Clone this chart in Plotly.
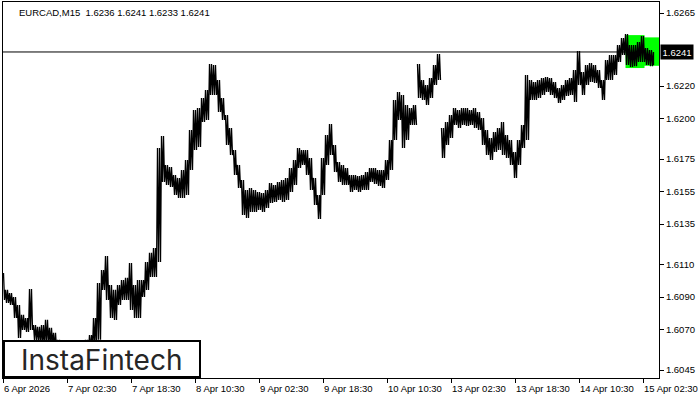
import plotly.graph_objects as go

# ---------------- data ----------------
symbol = "EURCAD,M15"
last_bar_ohlc = [1.6236, 1.6241, 1.6233, 1.6241]   # O H L C of the current M15 bar

# hourly high / low summary of the M15 bars (6 Apr 10:00 ... 15 Apr 05:00, weekend skipped)
hour_high = [
    1.61048, 1.60944, 1.60925, 1.60900, 1.60851, 1.60790, 1.60771, 1.60950, 1.60728, 1.60716,
    1.60728, 1.60759, 1.60710, 1.60679, 1.60636, 1.60623, 1.60605, 1.60617, 1.60586, 1.60605,
    1.60623, 1.60636, 1.60666, 1.60771, 1.60987, 1.61067, 1.61153, 1.60974, 1.60944, 1.60974,
    1.61005, 1.61018, 1.61110, 1.60974, 1.61005, 1.61005, 1.61116, 1.61172, 1.61202, 1.61818,
    1.61892, 1.61714, 1.61701, 1.61652, 1.61634, 1.61683, 1.61744, 1.61929, 1.62052, 1.62065,
    1.62126, 1.62176, 1.62336, 1.62330, 1.62237, 1.62126, 1.62022, 1.61942, 1.61806, 1.61714,
    1.61621, 1.61560, 1.61572, 1.61560, 1.61547, 1.61541, 1.61560, 1.61603, 1.61590, 1.61609,
    1.61621, 1.61634, 1.61695, 1.61744, 1.61818, 1.61806, 1.61806, 1.61757, 1.61634, 1.61529,
    1.61757, 1.61898, 1.61966, 1.61837, 1.61732, 1.61714, 1.61695, 1.61652, 1.61652, 1.61646,
    1.61652, 1.61670, 1.61695, 1.61695, 1.61683, 1.61683, 1.61744, 1.61868, 1.62114, 1.62163,
    1.62145, 1.62083, 1.62065, 1.62083, 1.62336, 1.62237, 1.62206, 1.62250, 1.62330, 1.62397,
    1.61942, 1.61978, 1.62022, 1.62065, 1.62052, 1.62065, 1.62065, 1.62052, 1.62065, 1.62040,
    1.62003, 1.61929, 1.61880, 1.61917, 1.61942, 1.61978, 1.61898, 1.61868, 1.61794, 1.61868,
    1.61960, 1.62268, 1.62237, 1.62225, 1.62237, 1.62250, 1.62256, 1.62250, 1.62225, 1.62188,
    1.62206, 1.62237, 1.62250, 1.62299, 1.62416, 1.62286, 1.62330, 1.62342, 1.62330, 1.62299,
    1.62237, 1.62360, 1.62391, 1.62391, 1.62453, 1.62496, 1.62521, 1.62453, 1.62453, 1.62471,
    1.62508, 1.62434, 1.62422, 1.62410,
]
hour_low = [
    1.60882, 1.60864, 1.60851, 1.60771, 1.60648, 1.60697, 1.60685, 1.60697, 1.60636, 1.60623,
    1.60605, 1.60617, 1.60605, 1.60586, 1.60562, 1.60537, 1.60525, 1.60512, 1.60500, 1.60512,
    1.60543, 1.60562, 1.60574, 1.60605, 1.60636, 1.60944, 1.60882, 1.60771, 1.60759, 1.60851,
    1.60882, 1.60882, 1.60820, 1.60771, 1.60771, 1.60900, 1.60944, 1.61024, 1.61024, 1.61116,
    1.61609, 1.61590, 1.61578, 1.61529, 1.61510, 1.61510, 1.61529, 1.61683, 1.61806, 1.61824,
    1.61978, 1.61991, 1.62145, 1.62145, 1.62040, 1.61991, 1.61837, 1.61775, 1.61652, 1.61572,
    1.61406, 1.61387, 1.61424, 1.61424, 1.61436, 1.61424, 1.61449, 1.61480, 1.61486, 1.61498,
    1.61486, 1.61498, 1.61547, 1.61590, 1.61695, 1.61714, 1.61652, 1.61560, 1.61467, 1.61381,
    1.61529, 1.61714, 1.61775, 1.61670, 1.61609, 1.61590, 1.61590, 1.61547, 1.61560, 1.61547,
    1.61560, 1.61560, 1.61609, 1.61597, 1.61584, 1.61572, 1.61621, 1.61683, 1.61868, 1.61991,
    1.61818, 1.61868, 1.61960, 1.61960, 1.62126, 1.62114, 1.62083, 1.62126, 1.62206, 1.62237,
    1.61757, 1.61837, 1.61880, 1.61960, 1.61942, 1.61960, 1.61954, 1.61960, 1.61942, 1.61929,
    1.61837, 1.61775, 1.61744, 1.61794, 1.61806, 1.61775, 1.61757, 1.61714, 1.61634, 1.61714,
    1.61818, 1.61868, 1.62114, 1.62114, 1.62126, 1.62145, 1.62163, 1.62145, 1.62126, 1.62096,
    1.62114, 1.62139, 1.62145, 1.62102, 1.62206, 1.62145, 1.62206, 1.62225, 1.62219, 1.62188,
    1.62114, 1.62237, 1.62237, 1.62268, 1.62348, 1.62391, 1.62330, 1.62317, 1.62323, 1.62348,
    1.62348, 1.62330, 1.62323, 1.62330,
]

x_tick_labels = ["6 Apr 2026", "7 Apr 02:30", "7 Apr 18:30", "8 Apr 10:30", "9 Apr 02:30",
                 "9 Apr 18:30", "10 Apr 10:30", "13 Apr 02:30", "13 Apr 18:30",
                 "14 Apr 10:30", "15 Apr 02:30"]
bars_between_labels = 64          # 16 hours of M15 bars
bars_per_hour = 4
first_hour_offset = 2             # chart starts at 10:30, i.e. 2 bars into the 10:00 hour

y_tick_values = [1.6265, 1.6220, 1.6200, 1.6175, 1.6155, 1.6135, 1.6110, 1.6090, 1.6070, 1.6045]
y_range = [1.60401, 1.62718]

# rectangle pattern (bar index start/end, price top/bottom)
pattern_start = [622, 640]
pattern_end = [641, 655.5]
pattern_top = [1.62514, 1.62500]
pattern_bottom = [1.62311, 1.62325]

# --------------- bars as a dense high/low hatch -----------------
zx, zy = [], []
n = len(hour_high)
for h in range(n):
    b0 = bars_per_hour * h - first_hour_offset
    pts = [(b0, hour_high[h]), (b0 + 1, hour_low[h]), (b0 + 2, hour_high[h]), (b0 + 3, hour_low[h])]
    if h == n - 1:
        pts = [(b0, hour_high[h]), (b0, hour_low[h])]
    for bx, by in pts:
        if 0 <= bx:
            zx.append(bx)
            zy.append(by)
    # break the stroke where consecutive hours do not overlap (price gap)
    if h < n - 1 and (hour_high[h + 1] < hour_low[h] or hour_low[h + 1] > hour_high[h]):
        zx.append(None)
        zy.append(None)

fig = go.Figure()
fig.add_trace(go.Scatter(
    x=zx, y=zy, mode="lines", line=dict(color="black", width=1.3),
    hoverinfo="skip", showlegend=False, connectgaps=False,
))

shapes = []
for x0, x1, top, bot in zip(pattern_start, pattern_end, pattern_top, pattern_bottom):
    shapes.append(dict(type="rect", xref="x", yref="y", x0=x0, x1=x1, y0=bot, y1=top,
                       fillcolor="#00FF00", line=dict(width=0), layer="below"))
shapes.append(dict(type="line", xref="paper", yref="y", x0=0, x1=1,
                   y0=last_bar_ohlc[3], y1=last_bar_ohlc[3],
                   line=dict(color="black", width=1), layer="below"))
# logo box
shapes.append(dict(type="rect", xref="paper", yref="paper", x0=0.0015, x1=0.3003,
                   y0=0.0027, y1=0.0984, fillcolor="white",
                   line=dict(color="black", width=2), layer="above"))

annotations = []
for i, lab in enumerate(x_tick_labels):
    annotations.append(dict(x=i * bars_between_labels, xref="x", y=0, yref="paper",
                            text=lab, showarrow=False, xanchor="left", yanchor="top",
                            xshift=-1.5, yshift=-3,
                            font=dict(family="Liberation Sans", size=9.5, color="black")))
header = symbol + "  " + " ".join(f"{v:.4f}" for v in last_bar_ohlc)
annotations.append(dict(x=0.0213, xref="paper", y=1, yref="paper", text=header,
                        showarrow=False, xanchor="left", yanchor="top", yshift=-2.5,
                        font=dict(family="Liberation Sans", size=9.5, color="black")))
annotations.append(dict(x=1, xref="paper", y=last_bar_ohlc[3], yref="y",
                        text=f"{last_bar_ohlc[3]:.4f}", showarrow=False,
                        xanchor="left", yanchor="middle", xshift=1,
                        bgcolor="black", borderpad=1.5,
                        font=dict(family="Liberation Sans", size=9.5, color="white")))
annotations.append(dict(x=0.150, xref="paper", y=0.049, yref="paper", text="InstaFintech",
                        showarrow=False, xanchor="center", yanchor="middle",
                        font=dict(family="Inter", size=28, color="#262626")))

fig.update_layout(
    width=700, height=400,
    margin=dict(l=3, r=41, t=2, b=22, autoexpand=False),
    paper_bgcolor="white", plot_bgcolor="white",
    showlegend=False,
    font=dict(family="Liberation Sans", size=9.5, color="black"),
    shapes=shapes, annotations=annotations,
)
fig.update_xaxes(
    range=[-0.5, 655.5], showgrid=False, zeroline=False, automargin=False,
    showline=True, linecolor="black", linewidth=1, mirror=True,
    ticks="outside", ticklen=4, tickcolor="black",
    tickvals=[i * bars_between_labels for i in range(len(x_tick_labels))],
    showticklabels=False, fixedrange=True,
)
fig.update_yaxes(
    side="right", range=y_range, tickvals=y_tick_values, automargin=False,
    ticktext=[f"{v:.4f}" for v in y_tick_values],
    ticks="outside", ticklen=4, tickcolor="black",
    showgrid=False, zeroline=False,
    showline=True, linecolor="black", linewidth=1, mirror=True,
    tickfont=dict(family="Liberation Sans", size=9.5, color="black"),
)

fig.write_html("out.html", config={"displayModeBar": False},
               post_script="document.body.style.margin='0';")
